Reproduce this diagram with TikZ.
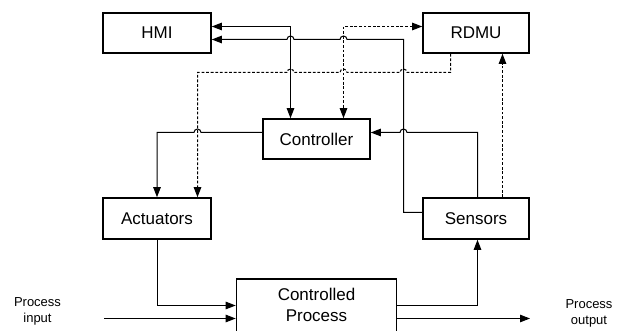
\documentclass[tikz,border=0pt]{standalone}
\usepackage{fontspec}
\setmainfont{Liberation Sans}
\usetikzlibrary{arrows.meta,calc}

\tikzset{
  box/.style={draw, line width=1.6pt, inner sep=0pt, align=center,
              font=\fontsize{17}{21}\selectfont},
  conn/.style={line width=1pt},
  dashconn/.style={conn, dash pattern=on 2.8pt off 1.8pt},
  lbl/.style={inner sep=0pt, align=center, font=\fontsize{13}{16}\selectfont},
  txt/.style={inner sep=0pt, align=center, font=\fontsize{17}{21}\selectfont},
}

\begin{document}
\begin{tikzpicture}[x=1pt, y=-1pt, >={Triangle[length=10pt,width=7.5pt]}]
  \useasboundingbox (0,0) rectangle (619,331);
  \clip (0,0) rectangle (619,331);

  % routing columns and rows
  \coordinate (B) at (197.5,0);
  \coordinate (C) at (290.5,0);
  \coordinate (D) at (343.5,0);
  \coordinate (E) at (403.5,0);
  \coordinate (F) at (450.5,0);
  \coordinate (G) at (477.5,0);
  \coordinate (H) at (502.5,0);
  \coordinate (R1) at (0,26.5);
  \coordinate (R2) at (0,39.5);
  \coordinate (R3) at (0,72.5);
  \coordinate (R4) at (0,132.5);
  \coordinate (R5) at (0,212.5);
  \coordinate (R6) at (0,305.5);
  \coordinate (R7) at (0,318.5);

  % blocks
  \node[box, minimum width=108pt, minimum height=40pt] (hmi)  at (157,33)    {HMI};
  \node[box, minimum width=106pt, minimum height=40pt] (rdmu) at (476,33)    {RDMU};
  \node[box, minimum width=107pt, minimum height=40pt] (ctrl) at (316.5,139) {Controller};
  \node[box, minimum width=108pt, minimum height=41pt] (act)  at (157,218.5) {Actuators};
  \node[box, minimum width=106pt, minimum height=41pt] (sens) at (476,218.5) {Sensors};
  \node[box, minimum width=160pt, minimum height=70pt, anchor=north] (proc) at (316.5,278) {};
  \node[txt] (proctxt) at (316.5,304.5) {Controlled\\Process};

  % external signals
  \coordinate (pin)  at (104,318.5);
  \coordinate (pout) at (530,318.5);
  \node[lbl] (inlbl)  at (37.5,311)  {Process\\input};
  \node[lbl] (outlbl) at (589,313.5) {Process\\output};

  % HMI <-> Controller
  \draw[conn,<->] (hmi.east |- R1) -- (C |- R1) -- (C |- ctrl.north);

  % Controller <-> RDMU (dashed)
  \draw[dashconn,<->] (rdmu.west |- R1) -- (D |- R1) -- (D |- ctrl.north);

  % Sensors -> HMI
  \draw[conn,->] (sens.west |- R5) -- (E |- R5) -- (E |- R2)
    -- ($(D |- R2)+(3.5,0)$) arc[start angle=0, end angle=-180, radius=3.5]
    -- ($(C |- R2)+(3.5,0)$) arc[start angle=0, end angle=-180, radius=3.5]
    -- (hmi.east |- R2);

  % RDMU -> Actuators (dashed)
  \draw[dashconn,->] (F |- rdmu.south) -- (F |- R3)
    -- ($(E |- R3)+(3.5,0)$) arc[start angle=0, end angle=-180, radius=3.5]
    -- ($(D |- R3)+(3.5,0)$) arc[start angle=0, end angle=-180, radius=3.5]
    -- ($(C |- R3)+(3.5,0)$) arc[start angle=0, end angle=-180, radius=3.5]
    -- (B |- R3) -- (B |- act.north);

  % Controller -> Actuators
  \draw[conn,->] (ctrl.west |- R4)
    -- ($(B |- R4)+(3.5,0)$) arc[start angle=0, end angle=-180, radius=3.5]
    -- (act.north |- R4) -- (act.north);

  % Sensors -> Controller
  \draw[conn,->] (G |- sens.north) -- (G |- R4)
    -- ($(E |- R4)+(3.5,0)$) arc[start angle=0, end angle=-180, radius=3.5]
    -- (ctrl.east |- R4);

  % Sensors -> RDMU (dashed)
  \draw[dashconn,->] (H |- sens.north) -- (H |- rdmu.south);

  % Actuators -> Controlled Process
  \draw[conn,->] (act.south) -- (act.south |- R6) -- (proc.west |- R6);

  % Process input
  \draw[conn,->] (pin) -- (proc.west |- R7);

  % Controlled Process -> Sensors
  \draw[conn,->] (proc.east |- R6) -- (G |- R6) -- (G |- sens.south);

  % Process output
  \draw[conn,->] (proc.east |- R7) -- (pout);
\end{tikzpicture}
\end{document}
